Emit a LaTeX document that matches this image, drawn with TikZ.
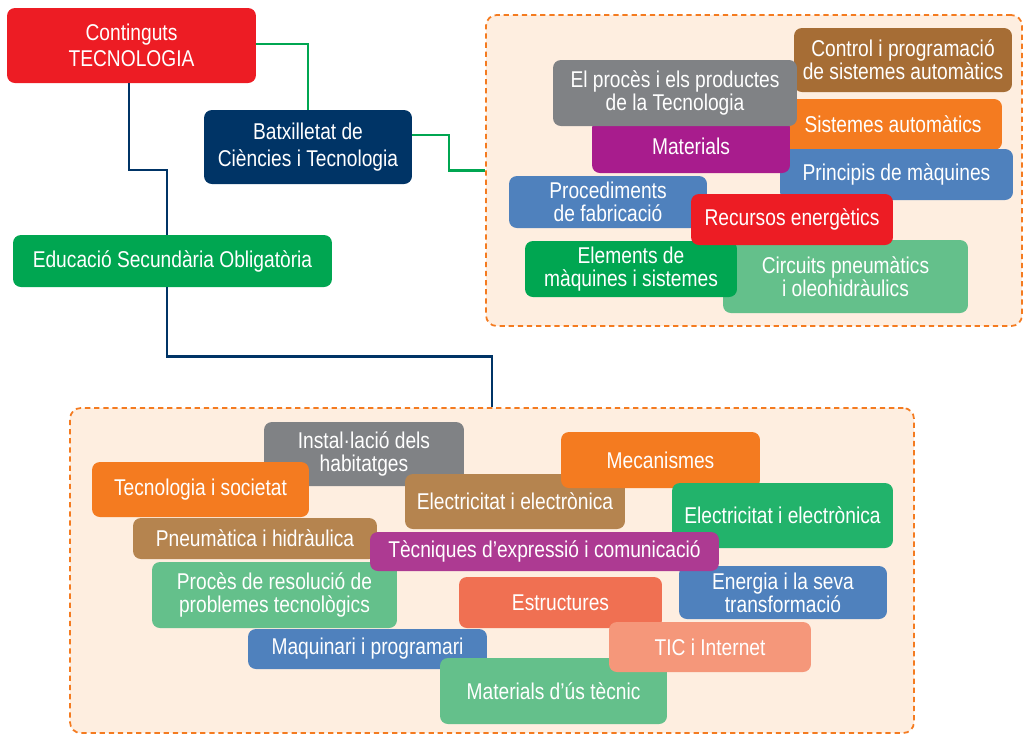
\documentclass[tikz,border=0pt]{standalone}
\usepackage{fontspec}
\setmainfont{Liberation Sans}
\newfontfamily\estreta[FakeStretch=0.84]{Liberation Sans}
\usepackage{tikz}

\definecolor{vermell}{HTML}{ED1C24}
\definecolor{blaufosc}{HTML}{003466}
\definecolor{verd}{HTML}{00A651}
\definecolor{verdclar}{HTML}{64C08B}
\definecolor{verdmig}{HTML}{22B36B}
\definecolor{gris}{HTML}{808285}
\definecolor{marro}{HTML}{A66D35}
\definecolor{marroclar}{HTML}{B5844F}
\definecolor{taronja}{HTML}{F47B20}
\definecolor{lila}{HTML}{A81C8D}
\definecolor{lilaclar}{HTML}{AD3A92}
\definecolor{blau}{HTML}{4F81BD}
\definecolor{corall}{HTML}{F07052}
\definecolor{salmo}{HTML}{F5977A}
\definecolor{crema}{HTML}{FEEEE0}

\begin{document}
\begin{tikzpicture}[x=0.02cm, y=-0.02cm,
    tema/.style={fill=#1, rounded corners=4.5pt, text=white, align=center,
        inner sep=0pt, font=\estreta\fontsize{13}{13.2}\selectfont},
    cap/.style={tema=#1, font=\estreta\fontsize{13}{15}\selectfont},
    marc/.style={draw=taronja, fill=crema, line width=1pt,
        dash pattern=on 3pt off 2.2pt, rounded corners=6pt, inner sep=0pt},
    nlink/.style={draw=blaufosc, line width=1.3pt},
    glink/.style={draw=verd, line width=1.3pt}]
\useasboundingbox (0,0) rectangle (1023,735);

% marcs de fons
\node[marc, minimum width=10.72cm, minimum height=6.22cm] (marcbat) at (754,170.5) {};
\node[marc, minimum width=16.88cm, minimum height=6.5cm] (marceso) at (492,570.5) {};

% caixes principals
\node[cap=vermell, minimum width=4.98cm, minimum height=1.5cm] (contin) at (131.5,45.5) {Continguts\\TECNOLOGIA};
\node[cap=blaufosc, minimum width=4.16cm, minimum height=1.48cm] (batx) at (308,147) {Batxilletat de\\Ciències i Tecnologia};
\node[cap=verd, minimum width=6.38cm, minimum height=1.04cm] (eso) at (172.5,261) {Educació Secundària Obligatòria};

% connexions
\draw[glink] ([yshift=.03cm]contin.east) -| (batx.north);
\draw[glink] ([yshift=.24cm]batx.east) -- ++(37,0) |- (marcbat.west);
\draw[nlink] ([xshift=-.05cm]contin.south) -- ++(0,87) -| ([xshift=-.11cm]eso.north);
\draw[nlink] ([xshift=-.11cm]eso.south) -- ++(0,69) -| (marceso.north);

% batxillerat
\node[tema=marro, minimum width=4.36cm, minimum height=1.28cm] (control) at (903,60) {Control i programació\\de sistemes automàtics};
\node[tema=taronja, minimum width=4.36cm, minimum height=1.02cm] (sistemes) at (893,124.5) {Sistemes automàtics};
\node[tema=blau, minimum width=4.66cm, minimum height=1.02cm] (principis) at (896.5,174.5) {Principis de màquines};
\node[tema=lila, minimum width=3.96cm, minimum height=1.06cm] (materials) at (691,146.5) {Materials};
\node[tema=gris, minimum width=4.88cm, minimum height=1.32cm] (proces) at (675,93) {El procès i els productes\\de la Tecnologia};
\node[tema=blau, minimum width=3.96cm, minimum height=1.04cm] (procediments) at (608,202) {Procediments\\de fabricació};
\node[tema=verdclar, minimum width=4.9cm, minimum height=1.46cm] (circuits) at (845.5,276.5) {Circuits pneumàtics\\i oleohidràulics};
\node[tema=verd, minimum width=4.24cm, minimum height=1.12cm] (elements) at (631,269) {Elements de\\màquines i sistemes};
\node[tema=vermell, minimum width=4.04cm, minimum height=1.02cm] (recursos) at (792,219.5) {Recursos energètics};

% ESO
\node[tema=gris, minimum width=4cm, minimum height=1.28cm] (installacio) at (364,454) {Instal·lació dels\\habitatges};
\node[tema=taronja, minimum width=4.34cm, minimum height=1.1cm] (societat) at (200.5,489.5) {Tecnologia i societat};
\node[tema=marroclar, minimum width=4.4cm, minimum height=1.1cm] (electb) at (515,501.5) {Electricitat i electrònica};
\node[tema=taronja, minimum width=3.98cm, minimum height=1.12cm] (mecanismes) at (660.5,460) {Mecanismes};
\node[tema=verdmig, minimum width=4.42cm, minimum height=1.3cm] (electv) at (782.5,515.5) {Electricitat i electrònica};
\node[tema=blau, minimum width=4.16cm, minimum height=1.06cm] (energia) at (783,592.5) {Energia i la seva\\transformació};
\node[tema=marroclar, minimum width=4.88cm, minimum height=.82cm] (pneumatica) at (255,538.5) {Pneumàtica i hidràulica};
\node[tema=verdclar, minimum width=4.9cm, minimum height=1.32cm] (resolucio) at (274.5,595) {Procès de resolució de\\problemes tecnològics};
\node[tema=lilaclar, minimum width=6.98cm, minimum height=.78cm] (tecniques) at (544.5,551.5) {Tècniques d’expressió i comunicació};
\node[tema=corall, minimum width=4.06cm, minimum height=1.02cm] (estructures) at (560.5,602.5) {Estructures};
\node[tema=blau, minimum width=4.78cm, minimum height=.8cm] (maquinari) at (367.5,649) {Maquinari i programari};
\node[tema=verdclar, minimum width=4.54cm, minimum height=1.32cm] (matus) at (553.5,691) {Materials d’ús tècnic};
\node[tema=salmo, minimum width=4.04cm, minimum height=1cm] (tic) at (710,647) {TIC i Internet};
\end{tikzpicture}
\end{document}
